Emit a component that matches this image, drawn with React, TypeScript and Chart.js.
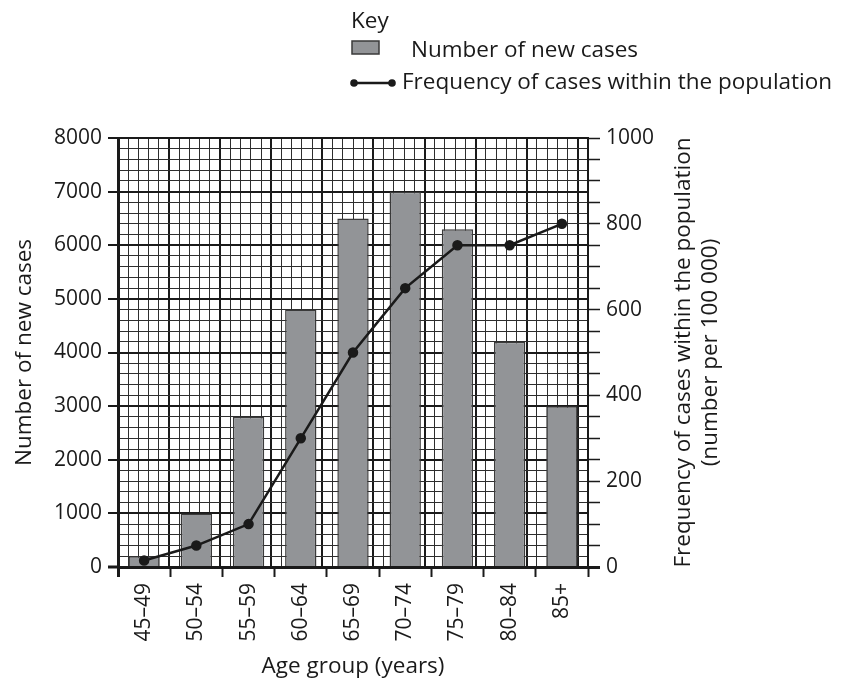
import React, { useEffect, useRef } from 'react';
import { Chart, registerables } from 'chart.js';

Chart.register(...registerables);

// ---- data ----
const categories = ['45–49', '50–54', '55–59', '60–64', '65–69', '70–74', '75–79', '80–84', '85+'];
const newCases = [200, 1000, 2800, 4800, 6500, 7000, 6300, 4200, 3000];
const frequency = [15, 50, 100, 300, 500, 650, 750, 750, 800];
const leftTickLabels = [0, 1000, 2000, 3000, 4000, 5000, 6000, 7000, 8000];
const rightTickLabels = [0, 200, 400, 600, 800, 1000];
const keyTitle = 'Key';
const seriesNames = ['Number of new cases', 'Frequency of cases within the population'];
const xTitle = 'Age group (years)';
const yTitle = 'Number of new cases';
const y1Title = ['Frequency of cases within the population', '(number per 100 000)'];

// ---- style ----
const FONT = '"Open Sans", "DejaVu Sans", sans-serif';
const INK = '#1a1a1a';
const MINOR = '#2e2e2e';
const BAR_FILL = '#929497';
const BAR_EDGE = '#3a3a3a';
const W = 853;
const H = 680;
const AREA = { left: 118, right: 588, top: 138, bottom: 567 };

const textPlugin = {
  id: 'keyAndTitles',
  afterDraw(chart: any) {
    const ctx = chart.ctx as CanvasRenderingContext2D;
    const ca = chart.chartArea;
    const cy = (ca.top + ca.bottom) / 2;
    const cx = (ca.left + ca.right) / 2;
    ctx.save();
    ctx.fillStyle = INK;
    ctx.font = `22.5px ${FONT}`;
    ctx.textBaseline = 'alphabetic';
    ctx.textAlign = 'left';
    // key
    ctx.fillText(keyTitle, 351, 28);
    ctx.fillStyle = BAR_FILL;
    ctx.fillRect(352, 41, 27, 13);
    ctx.strokeStyle = BAR_EDGE;
    ctx.lineWidth = 1.5;
    ctx.strokeRect(352, 41, 27, 13);
    ctx.fillStyle = INK;
    ctx.fillText(seriesNames[0], 411, 57);
    ctx.strokeStyle = INK;
    ctx.lineWidth = 2.5;
    ctx.beginPath();
    ctx.moveTo(354, 83);
    ctx.lineTo(392, 83);
    ctx.stroke();
    for (const px of [354, 392]) {
      ctx.beginPath();
      ctx.arc(px, 83, 3.8, 0, Math.PI * 2);
      ctx.fill();
    }
    ctx.fillText(seriesNames[1], 402, 89);
    // x title
    ctx.textAlign = 'center';
    ctx.fillText(xTitle, cx, 673);
    // left title
    ctx.save();
    ctx.translate(31, cy);
    ctx.rotate(-Math.PI / 2);
    ctx.fillText(yTitle, 0, 0);
    ctx.restore();
    // right title
    ctx.save();
    ctx.translate(690, cy);
    ctx.rotate(-Math.PI / 2);
    ctx.fillText(y1Title[0], 0, 0);
    ctx.restore();
    ctx.save();
    ctx.translate(717, cy);
    ctx.rotate(-Math.PI / 2);
    ctx.fillText(y1Title[1], 0, 0);
    ctx.restore();
    ctx.restore();
  },
};

const tickFont = { family: FONT, size: 21 };

export default function App() {
  const ref = useRef<HTMLCanvasElement>(null);

  useEffect(() => {
    let chart: Chart | null = null;
    let cancelled = false;
    const make = () => {
      if (cancelled || !ref.current) return;
      chart = new Chart(ref.current, {
        type: 'bar',
        data: {
          labels: categories,
          datasets: [
            {
              type: 'line',
              label: seriesNames[1],
              data: frequency,
              xAxisID: 'x',
              yAxisID: 'y1',
              borderColor: INK,
              backgroundColor: INK,
              borderWidth: 2.5,
              pointRadius: 4,
              pointBackgroundColor: INK,
              pointBorderColor: INK,
              tension: 0,
              order: 1,
            } as any,
            {
              type: 'bar',
              label: seriesNames[0],
              data: newCases,
              xAxisID: 'x',
              yAxisID: 'y',
              backgroundColor: BAR_FILL,
              borderColor: BAR_EDGE,
              borderWidth: 1.5,
              barPercentage: 0.6,
              categoryPercentage: 1,
              order: 2,
            } as any,
          ],
        },
        options: {
          responsive: false,
          animation: false,
          events: [],
          layout: { padding: 0 },
          plugins: {
            legend: { display: false },
            tooltip: { enabled: false },
            title: { display: false },
          },
          scales: {
            x: {
              type: 'category',
              position: 'bottom',
              offset: true,
              ticks: {
                minRotation: 90,
                maxRotation: 90,
                autoSkip: false,
                padding: 6,
                font: tickFont,
                color: INK,
              },
              grid: {
                offset: true,
                drawOnChartArea: false,
                tickLength: 10,
                tickColor: INK,
                tickWidth: (c: any) => (c.index === 0 ? 3 : 2),
              },
              border: { display: true, color: INK, width: 3, z: 1 },
              afterFit: (s: any) => {
                s.height = H - AREA.bottom;
              },
            },
            xg: {
              type: 'linear',
              position: 'top',
              min: 0,
              max: 45,
              ticks: { display: false, stepSize: 1, autoSkip: false },
              grid: {
                drawTicks: false,
                color: (c: any) => (c.tick && c.tick.value % 5 === 0 ? INK : MINOR),
                lineWidth: (c: any) => (c.tick && c.tick.value % 5 === 0 ? 2 : 1),
              },
              border: { display: false },
              afterFit: (s: any) => {
                s.height = AREA.top;
              },
            },
            y: {
              type: 'linear',
              position: 'left',
              min: 0,
              max: 8000,
              ticks: {
                stepSize: 200,
                autoSkip: false,
                padding: 6,
                font: tickFont,
                color: INK,
                callback: (v: any) => (leftTickLabels.includes(Number(v)) ? String(v) : ''),
              },
              grid: {
                color: (c: any) => (c.tick && c.tick.value % 1000 === 0 ? INK : MINOR),
                lineWidth: (c: any) => (c.tick && c.tick.value % 1000 === 0 ? 2 : 1),
                tickLength: 10,
                tickColor: (c: any) =>
                  c.tick && c.tick.value % 1000 === 0 ? INK : 'rgba(0,0,0,0)',
                tickWidth: (c: any) => (c.tick && c.tick.value === 0 ? 3 : 2),
              },
              border: { display: true, color: INK, width: 3, z: 1 },
              afterFit: (s: any) => {
                s.width = AREA.left;
              },
            },
            y1: {
              type: 'linear',
              position: 'right',
              min: 0,
              max: 1000,
              ticks: {
                stepSize: 50,
                autoSkip: false,
                padding: 6,
                font: tickFont,
                color: INK,
                callback: (v: any) => (rightTickLabels.includes(Number(v)) ? String(v) : ''),
              },
              grid: {
                drawOnChartArea: false,
                tickLength: 12,
                tickColor: INK,
                tickWidth: (c: any) => (c.tick && c.tick.value === 0 ? 3 : 1.5),
              },
              border: { display: true, color: INK, width: 2, z: 1 },
              afterFit: (s: any) => {
                s.width = W - AREA.right;
              },
            },
          },
        } as any,
        plugins: [textPlugin],
      });
    };
    const fonts = (document as any).fonts;
    if (fonts && fonts.load) {
      fonts.load(`22px "Open Sans"`).then(make, make);
    } else {
      make();
    }
    return () => {
      cancelled = true;
      if (chart) chart.destroy();
    };
  }, []);

  return (
    <div style={{ position: 'absolute', left: 0, top: 0, width: W, height: H, background: '#fff' }}>
      <canvas ref={ref} width={W} height={H} style={{ width: W, height: H, display: 'block' }} />
    </div>
  );
}
